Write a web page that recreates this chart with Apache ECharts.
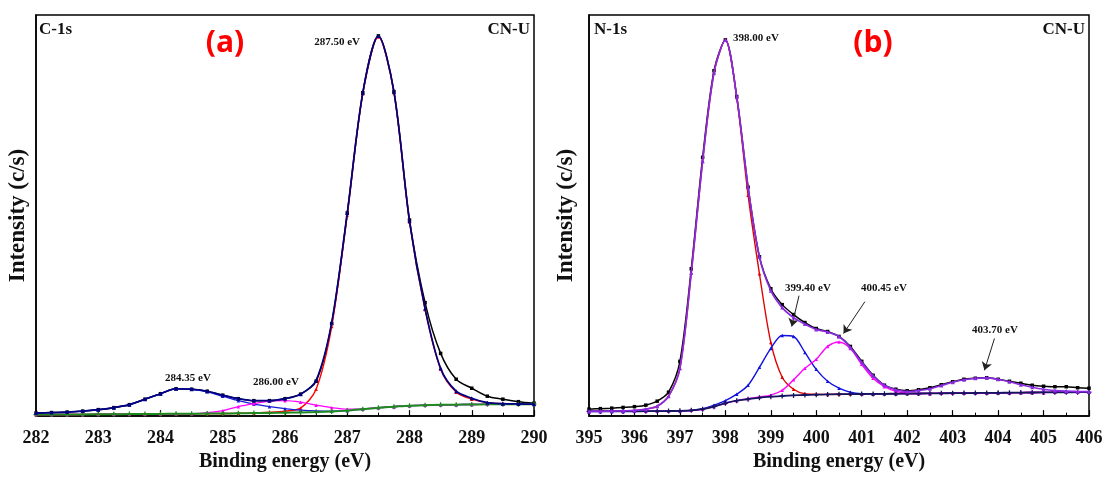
<!DOCTYPE html>
<html><head><meta charset="utf-8">
<script src="https://cdn.jsdelivr.net/npm/echarts@6/dist/echarts.min.js"></script>
<style>html,body{margin:0;padding:0;background:#fff}#chart{width:1107px;height:477px}</style>
</head><body><div id="chart"></div>
<script>
// ---------- Panel (a): C-1s ----------
const energiesA = [282,282.25,282.5,282.75,283,283.25,283.5,283.75,284,284.25,284.5,284.75,285,285.25,285.5,285.75,286,286.25,286.5,286.75,287,287.25,287.5,287.75,288,288.25,288.5,288.75,289,289.25,289.5,289.75,290];
const c1sRaw      = [3,3.5,4,5,6.5,8.5,11.5,17,22.5,27.5,27,25,21,17.5,15.5,15.5,17.5,22,35,93,204,325,382,326,197,114,63,37,28,20,17,14.5,13];
const c1sEnvelope = [3,3.5,4,5,6.5,8.5,11.5,17,22.5,27.5,27,25,21,17.5,15.5,15.5,17.5,22,36,94,204,325,382,326,196,108,48,25,18,13.5,12.5,12.2,12];
const c1sComp28435 = [3,3.5,4,5,6.5,8.5,11.5,17,22.5,27.5,27,24.5,20,15.5,12,9.5,7.5,6,5.2,5,5.5,7,8.5,9.5,10.5,11,11.3,11.5,11.7,11.8,11.9,12,12];
const c1sComp28600 = [1.5,1.5,1.6,1.7,1.8,1.9,2,2.1,2.2,2.3,2.4,3.5,5.5,9.5,12.5,15,15.5,14,11,8.5,7,7.2,8.5,9.5,10.5,11,11.3,11.5,11.7,11.8,11.9,12,12];
const c1sComp28750 = [1.5,1.5,1.6,1.7,1.8,1.9,2,2.1,2.2,2.3,2.4,2.5,2.6,2.8,3.2,3.8,5,8,27,90,202,324,381,325,195,107,47,24,17,13.5,12.5,12.2,12];
const c1sBackground = [1.5,1.5,1.6,1.7,1.8,1.9,2,2.1,2.2,2.3,2.4,2.5,2.6,2.8,3,3.2,3.4,3.7,4,4.5,5.5,7,8.5,9.5,10.5,11,11.3,11.5,11.7,11.8,11.9,12,12];

// ---------- Panel (b): N-1s ----------
const energiesB = [395,395.25,395.5,395.75,396,396.25,396.5,396.75,397,397.25,397.5,397.75,398,398.25,398.5,398.75,399,399.25,399.5,399.75,400,400.25,400.5,400.75,401,401.25,401.5,401.75,402,402.25,402.5,402.75,403,403.25,403.5,403.75,404,404.25,404.5,404.75,405,405.25,405.5,405.75,406];
const n1sRaw      = [7,7.5,8,8.7,9.5,11,15,24,55,148,260,347,378,321,230,160,128,112,102,94,88,85,80,70,55,41,31,27,25.5,26.5,28.5,31.5,34.5,37,38,38.5,37,35,33,31,30,29.5,29.5,28.5,28];
const n1sEnvelope = [4.7,4.8,5,5.3,5.7,7,10,20,48,144,256,345,378,321,230,160,126,109,99,92.5,87,84.5,80,69,54,40.5,31,26.5,24.7,25.7,27.5,30.7,34,36.5,38,38.5,37,34.5,31.5,29,27,25.7,25,24.7,24.5];
const n1sComp39800 = [4.7,4.8,5,5.3,5.7,7,10,20,48,144,256,345,378,320,222,143,74,39,27,22.5,22,21.8,22,22.1,22.2,22.3,22.4,22.5,22.6,22.7,22.8,22.9,23,23.1,23.2,23.3,23.4,23.5,23.6,23.7,23.8,23.9,23.9,24,24];
const n1sComp39940 = [4.7,4.7,4.7,4.7,4.8,4.9,5,5.1,5.3,5.8,7.5,11,15.5,22,31,49,68,81,80,64,47,35,28,24,22.5,22.3,22.4,22.5,22.6,22.7,22.8,22.9,23,23.1,23.2,23.3,23.4,23.5,23.6,23.7,23.8,23.9,23.9,24,24];
const n1sComp40045 = [4.7,4.7,4.7,4.7,4.8,4.9,5,5.1,5.3,5.8,7,9.5,13,15.5,17.5,19.2,21,26,36.5,48,57,70,74.5,68,52,38,29.5,25,23.2,22.7,22.8,22.9,23,23.1,23.2,23.3,23.4,23.5,23.6,23.7,23.8,23.9,23.9,24,24];
const n1sBackground = [4.7,4.7,4.7,4.7,4.8,4.9,5,5.1,5.3,5.8,7,9.5,13,15.5,17,18.5,19.5,20.2,20.8,21.2,21.5,21.8,22,22.1,22.2,22.3,22.4,22.5,22.6,22.7,22.8,22.9,23,23.1,23.2,23.3,23.4,23.5,23.6,23.7,23.8,23.9,23.9,24,24];

// ---------- texts ----------
const xAxisTitle = 'Binding energy (eV)';
const yAxisTitle = 'Intensity (c/s)';

const SERIF = '"Liberation Serif","Times New Roman",serif';
function pairs(xs, ys) { return xs.map((x, i) => [x, ys[i]]); }

function xAxisCfg(g, min, max) {
  return {
    gridIndex: g, type: 'value', min: min, max: max, interval: 1,
    name: xAxisTitle, nameLocation: 'middle', nameGap: 34,
    nameTextStyle: { fontFamily: SERIF, fontWeight: 'bold', fontSize: 20, color: '#111' },
    axisLine: { lineStyle: { color: '#000', width: 1.5 } },
    axisTick: { inside: true, length: 6, lineStyle: { color: '#000', width: 1.2 } },
    minorTick: { show: true, splitNumber: 2, length: 3.5, lineStyle: { color: '#000', width: 1 } },
    axisLabel: { fontFamily: SERIF, fontWeight: 'bold', fontSize: 18, color: '#111', margin: 13 },
    splitLine: { show: false }
  };
}
function yAxisCfg(g, gap) {
  return {
    gridIndex: g, type: 'value', min: 0, max: 403,
    name: yAxisTitle, nameLocation: 'middle', nameGap: gap, nameRotate: 90,
    nameTextStyle: { fontFamily: SERIF, fontWeight: 'bold', fontSize: 23, color: '#111' },
    axisLine: { show: true, lineStyle: { color: '#000', width: 1.5 } },
    axisTick: { show: false }, axisLabel: { show: false }, splitLine: { show: false }
  };
}
function line(g, xs, ys, color, symbol, size, width, z) {
  return {
    type: 'line', xAxisIndex: g, yAxisIndex: g, data: pairs(xs, ys),
    smooth: 0.3, symbol: symbol, symbolSize: size, showSymbol: true,
    lineStyle: { color: color, width: width }, itemStyle: { color: color },
    z: z, silent: true
  };
}
const PLUS = 'path://M3,0H5V3H8V5H5V8H3V5H0V3H3Z';

const envB = line(1, energiesB, n1sEnvelope, '#8a2be2', 'triangle', 4, 1.7, 9);
envB.markLine = {
  silent: true, symbol: ['none', 'arrow'], symbolSize: 8,
  lineStyle: { color: '#222', width: 1, type: 'solid' }, label: { show: false },
  data: [
    [{ coord: [399.62, 121] }, { coord: [399.46, 90] }],
    [{ coord: [401.07, 115] }, { coord: [400.6, 83] }],
    [{ coord: [403.92, 78] }, { coord: [403.7, 46] }]
  ]
};

function txt(x, y, s, font, fill, align) {
  return { type: 'text', silent: true, z: 50,
    style: { x: x, y: y, text: s, font: font, fill: fill || '#111',
      align: align || 'center', verticalAlign: 'middle',
      textAlign: align || 'center', textVerticalAlign: 'middle' } };
}
const LBL = 'bold 11px ' + SERIF;
const TAG = 'bold 17px ' + SERIF;
const PANEL = 'bold 30px "Open Sans", Lato, sans-serif';

const option = {
  animation: false,
  backgroundColor: '#fff',
  grid: [
    { left: 36, top: 15, width: 498, height: 403, show: true, borderColor: '#000', borderWidth: 1.5, backgroundColor: 'transparent' },
    { left: 589, top: 15, width: 500, height: 403, show: true, borderColor: '#000', borderWidth: 1.5, backgroundColor: 'transparent' }
  ],
  xAxis: [xAxisCfg(0, 282, 290), xAxisCfg(1, 395, 406)],
  yAxis: [yAxisCfg(0, 6), yAxisCfg(1, 11)],
  series: [
    line(0, energiesA, c1sRaw, '#000000', 'rect', 3.5, 1.5, 2),
    line(0, energiesA, c1sComp28750, '#ff0000', 'triangle', 3.5, 1.4, 3),
    line(0, energiesA, c1sComp28435, '#1a1ad6', 'triangle', 3.5, 1.4, 4),
    line(0, energiesA, c1sComp28600, '#ff00ff', 'triangle', 3.5, 1.4, 5),
    line(0, energiesA, c1sBackground, '#1f8a1f', PLUS, 5, 2, 6),
    line(0, energiesA, c1sEnvelope, '#000080', 'triangle', 4, 1.7, 7),

    line(1, energiesB, n1sRaw, '#000000', 'rect', 3.5, 1.5, 2),
    line(1, energiesB, n1sComp39800, '#e00000', 'triangle', 3.5, 1.4, 3),
    line(1, energiesB, n1sComp39940, '#1010e0', 'triangle', 3.5, 1.4, 4),
    line(1, energiesB, n1sComp40045, '#ff00ff', 'triangle', 3.5, 1.4, 5),
    line(1, energiesB, n1sBackground, '#14145f', PLUS, 5, 1.8, 6),
    envB
  ],
  graphic: [
    txt(39, 30, 'C-1s', TAG, '#111', 'left'),
    txt(530, 30, 'CN-U', TAG, '#111', 'right'),
    txt(594, 30, 'N-1s', TAG, '#111', 'left'),
    txt(1085, 30, 'CN-U', TAG, '#111', 'right'),
    txt(225, 43, '(a)', PANEL, '#ff0000', 'center'),
    txt(873, 43, '(b)', PANEL, '#ff0000', 'center'),
    txt(360, 42, '287.50 eV', LBL, '#111', 'right'),
    txt(188, 378, '284.35 eV', LBL),
    txt(276, 382, '286.00 eV', LBL),
    txt(733, 38, '398.00 eV', LBL, '#111', 'left'),
    txt(808, 288, '399.40 eV', LBL),
    txt(884, 288, '400.45 eV', LBL),
    txt(995, 330, '403.70 eV', LBL)
  ]
};
const chart = echarts.init(document.getElementById('chart'), null, { renderer: 'canvas' });
chart.setOption(option);
</script>
</body></html>
